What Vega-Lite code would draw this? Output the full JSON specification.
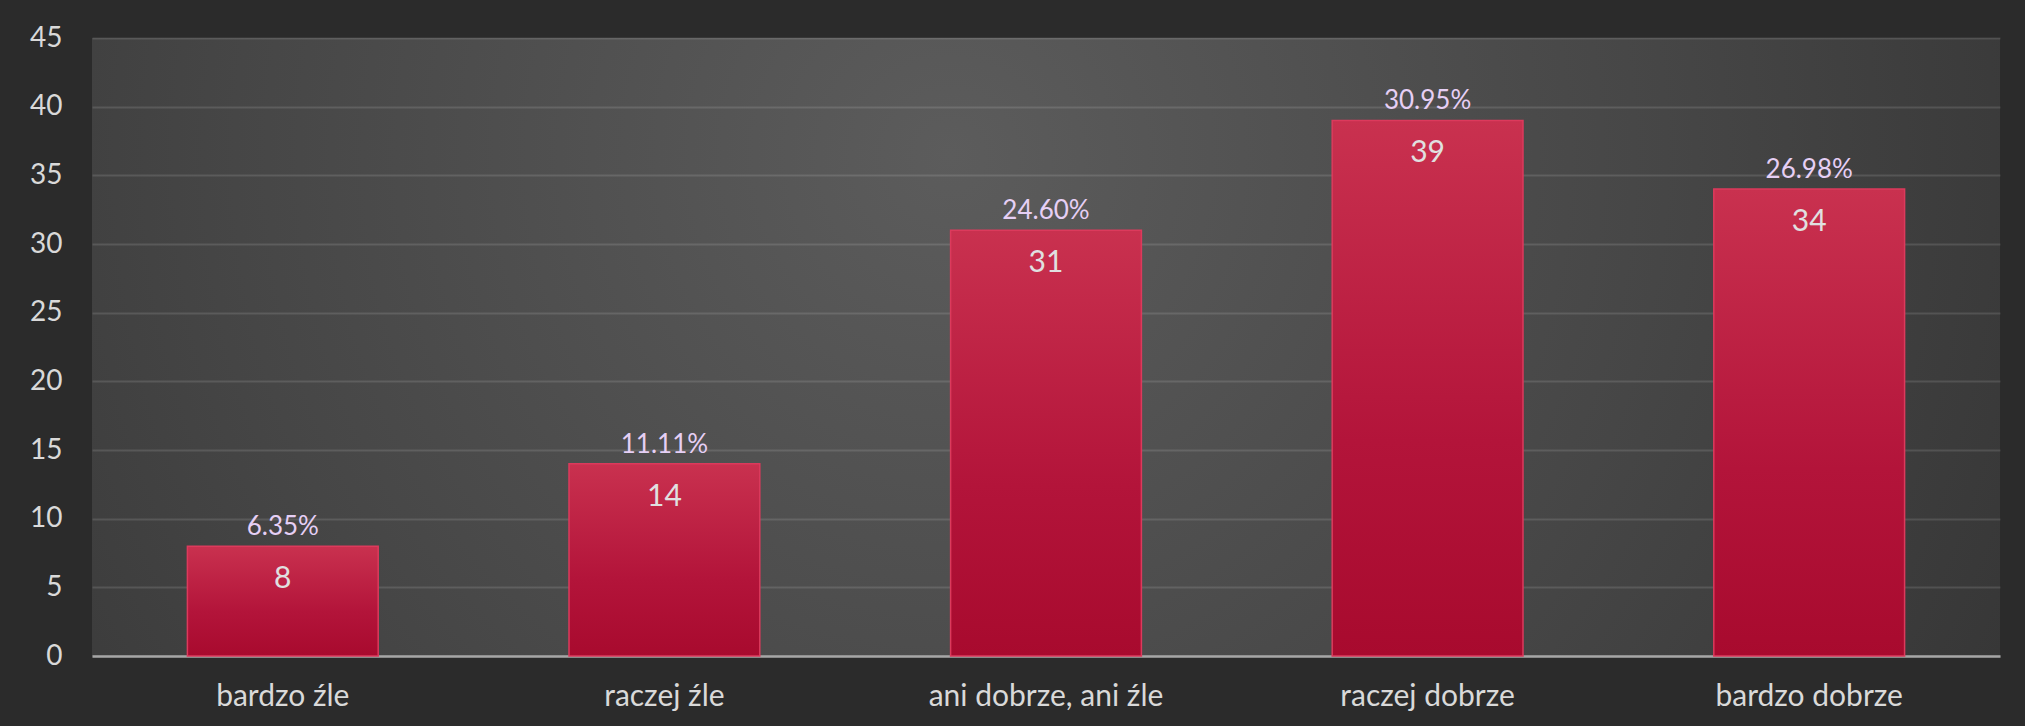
{
  "$schema": "https://vega.github.io/schema/vega-lite/v6.json",
  "width": 1908,
  "height": 618,
  "autosize": {"type": "none"},
  "padding": {"left": 92, "top": 38, "right": 25, "bottom": 70},
  "background": "#2b2b2b",
  "config": {
    "view": {
      "stroke": null,
      "fill": {
        "gradient": "radial",
        "x1": 0.45, "y1": 0.4, "r1": 0,
        "x2": 0.45, "y2": 0.4, "r2": 0.75,
        "stops": [
          {"offset": 0, "color": "#5c5c5c"},
          {"offset": 0.5, "color": "#464646"},
          {"offset": 1, "color": "#2e2e2e"}
        ]
      }
    },
    "font": "Lato",
    "axis": {"labelFont": "Lato", "labelColor": "#d9d9d9", "title": null}
  },
  "data": {
    "values": [
      {"kategoria": "bardzo źle", "liczba": 8, "procent": "6.35%"},
      {"kategoria": "raczej źle", "liczba": 14, "procent": "11.11%"},
      {"kategoria": "ani dobrze, ani źle", "liczba": 31, "procent": "24.60%"},
      {"kategoria": "raczej dobrze", "liczba": 39, "procent": "30.95%"},
      {"kategoria": "bardzo dobrze", "liczba": 34, "procent": "26.98%"}
    ]
  },
  "encoding": {
    "x": {
      "field": "kategoria",
      "type": "nominal",
      "sort": null,
      "scale": {"paddingInner": 0.5, "paddingOuter": 0.25},
      "axis": {
        "labelAngle": 0,
        "labelFontSize": 30,
        "labelLimit": 0,
        "labelBaseline": "alphabetic",
        "labelPadding": 49,
        "ticks": false,
        "domainColor": "#a6a6a6",
        "domainWidth": 2.5,
        "grid": false,
        "title": null
      }
    },
    "y": {
      "field": "liczba",
      "type": "quantitative",
      "scale": {"domain": [0, 45], "nice": false},
      "axis": {
        "values": [0, 5, 10, 15, 20, 25, 30, 35, 40, 45],
        "labelFontSize": 28,
        "labelPadding": 30,
        "ticks": false,
        "domain": false,
        "grid": true,
        "gridColor": "#ffffff",
        "gridOpacity": 0.12,
        "gridWidth": 2,
        "title": null
      }
    }
  },
  "layer": [
    {
      "mark": {
        "type": "bar",
        "color": {
          "gradient": "linear",
          "x1": 0, "y1": 0, "x2": 0, "y2": 1,
          "stops": [
            {"offset": 0, "color": "#c9314f"},
            {"offset": 0.6, "color": "#b3143a"},
            {"offset": 1, "color": "#a80a2e"}
          ]
        },
        "stroke": "#dc3a5c",
        "strokeWidth": 1.5
      }
    },
    {
      "mark": {
        "type": "text",
        "baseline": "alphabetic",
        "dy": -11,
        "fontSize": 26,
        "color": "#e6cff5"
      },
      "encoding": {"text": {"field": "procent"}}
    },
    {
      "mark": {
        "type": "text",
        "baseline": "alphabetic",
        "dy": 42,
        "fontSize": 30,
        "color": "#e0e0e0"
      },
      "encoding": {"text": {"field": "liczba"}}
    }
  ]
}
